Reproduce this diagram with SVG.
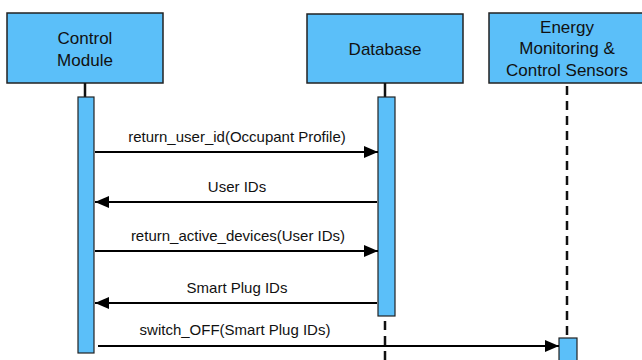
<svg xmlns="http://www.w3.org/2000/svg" width="642" height="360" viewBox="0 0 642 360">
<style>
.box{fill:#5bbff9;stroke:#222;stroke-width:1.5}
.act{fill:#5bbff9;stroke:#222;stroke-width:1.2}
.t{font-family:"Liberation Sans",Arial,sans-serif;font-size:17px;fill:#111;text-anchor:middle}
.m{font-family:"Liberation Sans",Arial,sans-serif;font-size:15px;fill:#111;text-anchor:middle}
.ll{stroke:#111;stroke-width:2.5;fill:none}
.dash{stroke:#111;stroke-width:2.5;fill:none;stroke-dasharray:9,6}
.msg{stroke:#000;stroke-width:2;fill:none;marker-end:url(#ah)}
</style>
<defs>
<marker id="ah" markerWidth="14" markerHeight="12" refX="14" refY="6" orient="auto" markerUnits="userSpaceOnUse">
<path d="M0,0 L14,6 L0,12 Z" fill="#000"/>
</marker>
</defs>
<rect width="642" height="360" fill="#fff"/>
<g id="control-module">
<rect class="box" x="7" y="13" width="156" height="70"/>
<text class="t" x="85" y="44">Control</text>
<text class="t" x="85" y="66">Module</text>
<line class="ll" x1="85" y1="83" x2="85" y2="97"/>
<rect class="act" x="78" y="97" width="16" height="256"/>
</g>
<g id="database">
<rect class="box" x="307" y="14" width="156" height="69"/>
<text class="t" x="385" y="55">Database</text>
<line class="ll" x1="385" y1="83" x2="385" y2="97"/>
<rect class="act" x="378" y="97" width="17" height="219"/>
<line class="dash" x1="385" y1="321" x2="385" y2="360"/>
</g>
<g id="energy-sensors">
<rect class="box" x="489" y="13" width="156" height="70"/>
<text class="t" x="567" y="33">Energy</text>
<text class="t" x="567" y="54">Monitoring &amp;</text>
<text class="t" x="567" y="76">Control Sensors</text>
<line class="dash" x1="567" y1="86" x2="567" y2="338"/>
<rect class="act" x="559" y="338" width="18" height="24"/>
</g>
<g id="connectors">
<line class="msg" x1="95" y1="152" x2="378" y2="152"/>
<text class="m" x="237" y="142">return_user_id(Occupant Profile)</text>
<line class="msg" x1="377" y1="202" x2="95" y2="202"/>
<text class="m" x="237" y="192">User IDs</text>
<line class="msg" x1="95" y1="251" x2="378" y2="251"/>
<text class="m" x="238" y="241">return_active_devices(User IDs)</text>
<line class="msg" x1="377" y1="303" x2="95" y2="303"/>
<text class="m" x="237" y="293">Smart Plug IDs</text>
<line class="msg" x1="98" y1="346" x2="559" y2="346"/>
<text class="m" x="235" y="335">switch_OFF(Smart Plug IDs)</text>
</g>
</svg>
